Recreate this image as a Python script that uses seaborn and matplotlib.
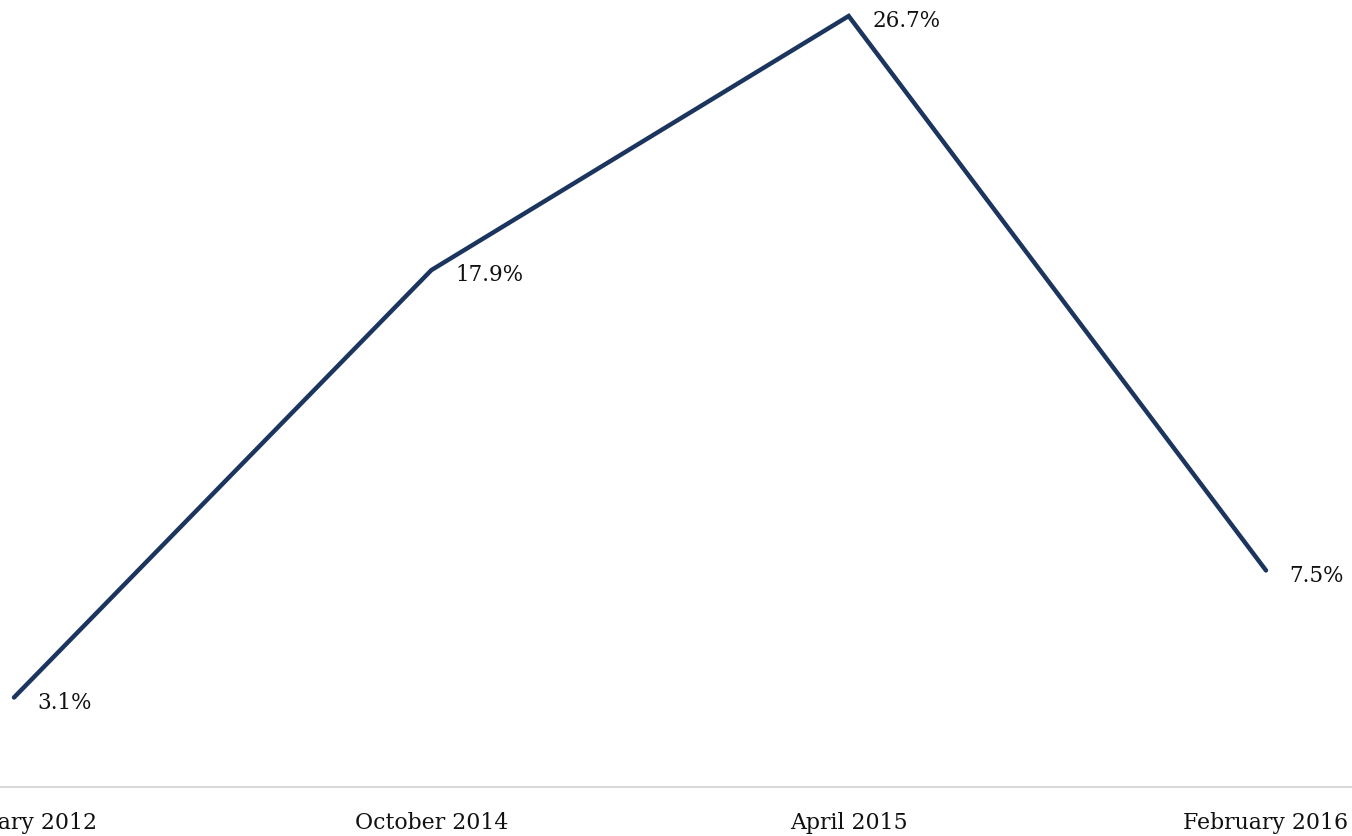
import matplotlib
matplotlib.use("Agg")
import matplotlib.pyplot as plt
import seaborn as sns
import pandas as pd

periods = ["February 2012", "October 2014", "April 2015", "February 2016"]
values = [3.1, 17.9, 26.7, 7.5]
labels = ["3.1%", "17.9%", "26.7%", "7.5%"]

sns.set_theme(style="white")
plt.rcParams['font.family'] = ['DejaVu Serif']

df = pd.DataFrame({"idx": range(len(periods)), "value": values})

fig = plt.figure(figsize=(13.52, 8.37), dpi=100)
ax = fig.add_axes([0, 49 / 837, 1, 788 / 837])
sns.lineplot(data=df, x="idx", y="value", ax=ax, color="#1c355e", linewidth=3.2,
             solid_capstyle="round", solid_joinstyle="miter")

for i, (v, t) in enumerate(zip(values, labels)):
    ax.annotate(t, (i, v), xytext=(17, -3), textcoords="offset points",
                ha="left", va="center", fontsize=15.5, color="#111111")

ax.set_xlim(-14 / 417.3, 3 + 86 / 417.3)
ax.set_ylim(0, 27.29)
ax.set_xticks(range(len(periods)))
ax.set_xticklabels(periods, fontsize=15.8, color="#111111")
ax.tick_params(axis="x", length=0, pad=17)
ax.set_yticks([])
ax.set_xlabel("")
ax.set_ylabel("")
for s in ["top", "left", "right"]:
    ax.spines[s].set_visible(False)
ax.spines["bottom"].set_color("#d9d9d9")
ax.spines["bottom"].set_linewidth(1.5)

fig.savefig("out.png", dpi=100)
